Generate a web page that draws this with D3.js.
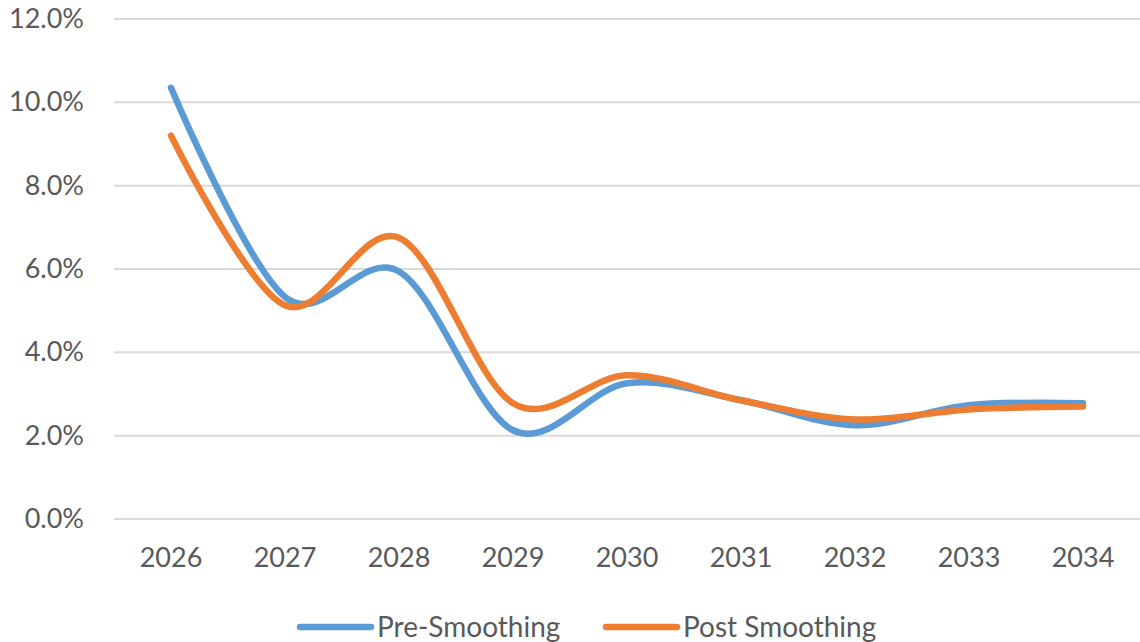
<!DOCTYPE html>
<html>
<head>
<meta charset="utf-8">
<script src="https://cdn.jsdelivr.net/npm/d3@7"></script>
<style>
  html, body { margin: 0; padding: 0; background: #fff; }
  svg { display: block; font-family: Lato, "Open Sans", sans-serif; }
</style>
</head>
<body>
<svg id="chart" width="1140" height="642"></svg>
<script>
// Forecast growth rates by year, before and after smoothing
const years = ["2026", "2027", "2028", "2029", "2030", "2031", "2032", "2033", "2034"];
const preSmoothing  = [0.1035, 0.0533, 0.0594, 0.0213, 0.0326, 0.0285, 0.0225, 0.0273, 0.0278];
const postSmoothing = [0.0920, 0.0513, 0.0675, 0.0278, 0.0345, 0.0285, 0.0239, 0.0263, 0.0270];
const yTicks = [0, 0.02, 0.04, 0.06, 0.08, 0.10, 0.12];
const seriesNames = ["Pre-Smoothing", "Post Smoothing"];
const seriesColors = ["#5B9BD5", "#ED7D31"];

const svg = d3.select("#chart");
const margin = { left: 114, right: 0, top: 19, bottom: 123 };
const W = 1140, H = 642;
const labelColor = "#595959";

const x = d3.scaleBand().domain(years).range([margin.left, W - margin.right]);
const y = d3.scaleLinear().domain([0, 0.12]).range([H - margin.bottom, margin.top]);

// horizontal gridlines
svg.append("g")
  .selectAll("line")
  .data(yTicks)
  .join("line")
  .attr("x1", margin.left)
  .attr("x2", W - margin.right)
  .attr("y1", d => y(d))
  .attr("y2", d => y(d))
  .attr("stroke", "#D9D9D9")
  .attr("stroke-width", 2);

// y axis labels
const yAxis = d3.axisLeft(y).tickValues(yTicks).tickFormat(d3.format(".1%")).tickSize(0).tickPadding(30);
svg.append("g")
  .attr("transform", `translate(${margin.left},0)`)
  .call(yAxis)
  .call(g => g.select(".domain").remove())
  .call(g => g.selectAll("text")
    .attr("fill", labelColor)
    .style("font-size", "27px")
    .style("font-family", "Lato, 'Open Sans', sans-serif"));

// x axis labels
const xAxis = d3.axisBottom(x).tickSize(0).tickPadding(29);
svg.append("g")
  .attr("transform", `translate(0,${y(0)})`)
  .call(xAxis)
  .call(g => g.select(".domain").remove())
  .call(g => g.selectAll("text")
    .attr("fill", labelColor)
    .style("font-size", "27px")
    .style("font-family", "Lato, 'Open Sans', sans-serif"));

// smoothed lines
const line = d3.line()
  .x((d, i) => x(years[i]) + x.bandwidth() / 2)
  .y(d => y(d))
  .curve(d3.curveCardinal.tension(0));

[preSmoothing, postSmoothing].forEach((vals, i) => {
  svg.append("path")
    .datum(vals)
    .attr("d", line)
    .attr("fill", "none")
    .attr("stroke", seriesColors[i])
    .attr("stroke-width", 6.5)
    .attr("stroke-linecap", "round")
    .attr("stroke-linejoin", "round");
});

// legend
const legendX = [300, 606];
const legendY = 627;
const legend = svg.append("g");
seriesNames.forEach((name, i) => {
  legend.append("line")
    .attr("x1", legendX[i])
    .attr("x2", legendX[i] + 71)
    .attr("y1", legendY)
    .attr("y2", legendY)
    .attr("stroke", seriesColors[i])
    .attr("stroke-width", 6.5)
    .attr("stroke-linecap", "round");
  legend.append("text")
    .attr("x", legendX[i] + 77)
    .attr("y", legendY)
    .attr("dy", "0.35em")
    .attr("fill", labelColor)
    .style("font-size", "28px")
    .text(name);
});
</script>
</body>
</html>
